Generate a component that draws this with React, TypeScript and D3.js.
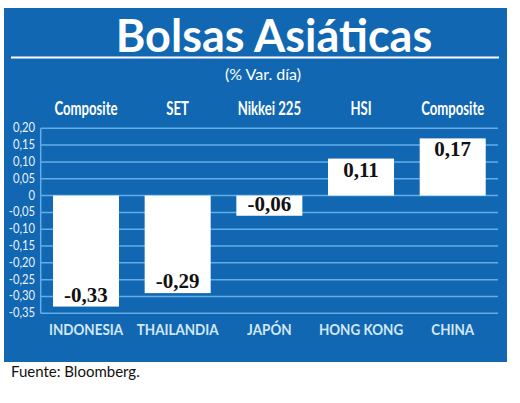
import { useEffect, useRef } from 'react';
import * as d3 from 'd3';

// Datos del gráfico
const categories = ['INDONESIA', 'THAILANDIA', 'JAPÓN', 'HONG KONG', 'CHINA'];
const indices = ['Composite', 'SET', 'Nikkei 225', 'HSI', 'Composite'];
const values = [-0.33, -0.29, -0.06, 0.11, 0.17];
const yTicks = [0.2, 0.15, 0.1, 0.05, 0, -0.05, -0.1, -0.15, -0.2, -0.25, -0.3, -0.35];

const fmt = (v: number) => (v === 0 ? '0' : d3.format('.2f')(v).replace('.', ',').replace('−', '-'));

const App = () => {
    const svgRef = useRef<SVGSVGElement>(null);

    useEffect(() => {
        if (!svgRef.current) return;
        const svg = d3.select(svgRef.current);
        svg.selectAll('*').remove();

        const blue = '#1167b1';
        const grid = '#63aee8';

        // Panel azul
        svg.append('rect')
            .attr('x', 4).attr('y', 8)
            .attr('width', 503).attr('height', 354)
            .attr('fill', blue);

        svg.append('text')
            .attr('x', 274).attr('y', 52)
            .attr('text-anchor', 'middle')
            .attr('font-family', 'Lato, sans-serif')
            .attr('font-weight', 700)
            .attr('font-size', 45)
            .attr('fill', '#fff')
            .text('Bolsas Asiáticas');

        svg.append('line')
            .attr('x1', 11).attr('x2', 499)
            .attr('y1', 57.5).attr('y2', 57.5)
            .attr('stroke', '#fff').attr('stroke-width', 2);

        svg.append('text')
            .attr('x', 263).attr('y', 80)
            .attr('text-anchor', 'middle')
            .attr('font-family', 'Lato, sans-serif')
            .attr('font-size', 16)
            .attr('fill', '#fff')
            .text('(% Var. día)');

        const x = d3.scaleBand()
            .domain(categories)
            .range([40.7, 498])
            .paddingInner(0.28)
            .paddingOuter(0.134);

        const y = d3.scaleLinear()
            .domain([-0.35, 0.2])
            .range([313.3, 128.3]);

        const cx = (i: number) => (x(categories[i]) || 0) + x.bandwidth() / 2;

        // Líneas de la cuadrícula
        svg.append('g')
            .selectAll('line')
            .data(yTicks)
            .enter()
            .append('line')
            .attr('x1', 40.7).attr('x2', 498)
            .attr('y1', d => y(d)).attr('y2', d => y(d))
            .attr('stroke', grid).attr('stroke-width', 1.5);

        svg.append('line')
            .attr('x1', 40.7).attr('x2', 40.7)
            .attr('y1', y(0.2)).attr('y2', y(-0.35))
            .attr('stroke', grid).attr('stroke-width', 1.5);

        svg.append('g')
            .selectAll('text')
            .data(yTicks)
            .enter()
            .append('text')
            .attr('transform', d => `translate(35,${y(d) + 4}) scale(0.9,1)`)
            .attr('text-anchor', 'end')
            .attr('font-family', 'Lato, sans-serif')
            .attr('font-size', 12.5)
            .attr('fill', '#eaf3fb')
            .text(d => fmt(d));

        // Barras
        svg.append('g')
            .selectAll('rect')
            .data(values)
            .enter()
            .append('rect')
            .attr('x', (_, i) => x(categories[i]) || 0)
            .attr('y', d => y(Math.max(0, d)))
            .attr('width', x.bandwidth())
            .attr('height', d => Math.abs(y(d) - y(0)))
            .attr('fill', '#fff');

        svg.append('g')
            .selectAll('text')
            .data(values)
            .enter()
            .append('text')
            .attr('x', (_, i) => cx(i))
            .attr('y', d => (d >= 0 ? y(d) + 18 : y(d) - 5))
            .attr('text-anchor', 'middle')
            .attr('font-family', '"Liberation Serif", serif')
            .attr('font-weight', 700)
            .attr('font-size', 21)
            .attr('fill', '#111')
            .text(d => fmt(d));

        // Índices arriba (tipografía condensada)
        svg.append('g')
            .selectAll('text')
            .data(indices)
            .enter()
            .append('text')
            .attr('transform', (_, i) => `translate(${cx(i)},115) scale(0.73,1)`)
            .attr('text-anchor', 'middle')
            .attr('font-family', 'Lato, sans-serif')
            .attr('font-weight', 700)
            .attr('font-size', 18)
            .attr('fill', '#fff')
            .text(d => d);

        // Países abajo
        svg.append('g')
            .selectAll('text')
            .data(categories)
            .enter()
            .append('text')
            .attr('transform', (_, i) => `translate(${cx(i)},335) scale(0.84,1)`)
            .attr('text-anchor', 'middle')
            .attr('font-family', 'Lato, sans-serif')
            .attr('font-weight', 700)
            .attr('font-size', 16)
            .attr('fill', '#d2e8f8')
            .text(d => d);

        svg.append('text')
            .attr('x', 11).attr('y', 377)
            .attr('font-family', 'Lato, sans-serif')
            .attr('font-size', 15)
            .attr('fill', '#111')
            .text('Fuente: Bloomberg.');
    }, []);

    return (
        <svg
            ref={svgRef}
            width={520}
            height={403}
            style={{ position: 'absolute', left: 0, top: 0, background: '#fff' }}
        ></svg>
    );
};

export default App;
